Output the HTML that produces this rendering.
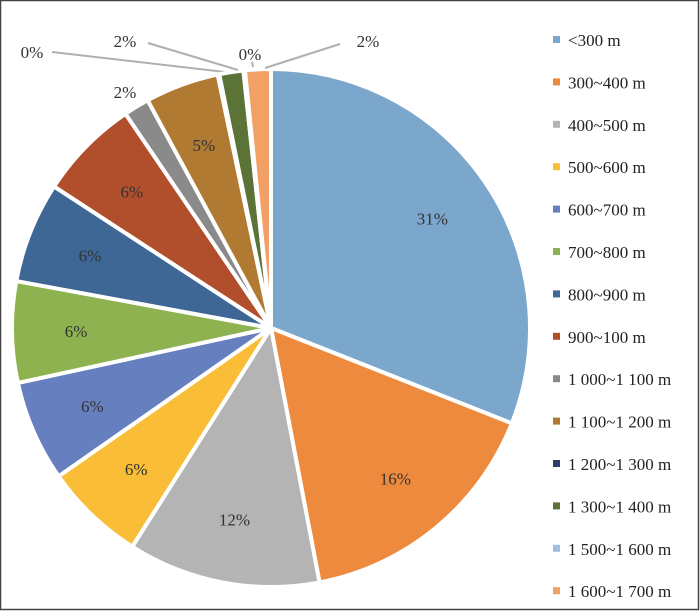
<!DOCTYPE html>
<html><head><meta charset="utf-8"><style>
body{margin:0;background:#fff}
svg{display:block;font-family:"Liberation Serif",serif}
</style></head><body>
<svg width="700" height="611">
<rect x="0.5" y="0.5" width="698" height="609" fill="#fff" stroke="#444" stroke-width="1.5"/>
<g id="pie"></g>
<g id="legend"></g>
</svg>
<script>
const categories=["<300 m","300~400 m","400~500 m","500~600 m","600~700 m","700~800 m","800~900 m","900~100 m","1 000~1 100 m","1 100~1 200 m","1 200~1 300 m","1 300~1 400 m","1 500~1 600 m","1 600~1 700 m"];
const values=[31,16,12,6.3,6.3,6.3,6.3,6.3,1.6,4.6,0.1,1.5,0.1,1.6];
const valueLabels=["31%","16%","12%","6%","6%","6%","6%","6%","2%","5%","0%","2%","0%","2%"];
const colors=["#7ba7cc","#ee8a3e","#b4b4b4","#f9bd38","#6680bf","#8db24f","#3e6796","#b14f2d","#8a8a8a","#b07a32","#2b3f6b","#5b7337","#9ebfe0","#f2a066"];
// layout for small outside labels: [textX,textY,lineStartX,lineStartY,lineEndX,lineEndY] (null=no leader)
const outside={8:[125,98,null],10:[32,58,[52,52,225,72]],11:[125,47,[148,43,238,70]],12:[250,60,[252,62,253,67]],13:[368,47,[340,44,265,68]]};
const NS="http://www.w3.org/2000/svg";
const cx=271,cy=328,R=259,LR=195;
const pie=document.getElementById('pie');
const total=values.reduce((a,b)=>a+b,0);
let a0=0;
function pt(a,r){return [cx+r*Math.sin(a),cy-r*Math.cos(a)];}
values.forEach((v,i)=>{
  const a1=a0+v/total*2*Math.PI;
  const p0=pt(a0,R),p1=pt(a1,R);
  const path=document.createElementNS(NS,'path');
  path.setAttribute('d',`M${cx},${cy}L${p0[0]},${p0[1]}A${R},${R} 0 ${a1-a0>Math.PI?1:0} 1 ${p1[0]},${p1[1]}Z`);
  path.setAttribute('fill',colors[i]);path.setAttribute('stroke','#fff');path.setAttribute('stroke-width','4');
  
  
  pie.appendChild(path);
  const t=document.createElementNS(NS,'text');
  t.setAttribute('font-size','17');t.setAttribute('fill','#333');t.setAttribute('text-anchor','middle');
  let tx,ty;
  if(outside[i]){tx=outside[i][0];ty=outside[i][1];
    if(outside[i][2]){const l=outside[i][2];const ln=document.createElementNS(NS,'polyline');
      ln.setAttribute('points',`${l[0]},${l[1]} ${l[0]+ (l[2]>l[0]?0:0)},${l[1]} ${l[2]},${l[3]}`);
      ln.setAttribute('fill','none');ln.setAttribute('stroke','#b0b0b0');ln.setAttribute('stroke-width','2');
      
      
      pie.appendChild(ln);}
  } else {const m=pt((a0+a1)/2,LR);tx=m[0];ty=m[1]+6;}
  t.setAttribute('x',tx);t.setAttribute('y',ty);t.textContent=valueLabels[i];
  
  
  pie.appendChild(t);
  a0=a1;
});
const lg=document.getElementById('legend');
categories.forEach((c,i)=>{
  const y=40+i*42.4;
  const r=document.createElementNS(NS,'rect');
  r.setAttribute('x',553);r.setAttribute('y',y-4);r.setAttribute('width',7);r.setAttribute('height',7);r.setAttribute('fill',colors[i]);
  
  
  lg.appendChild(r);
  const t=document.createElementNS(NS,'text');
  t.setAttribute('x',568);t.setAttribute('y',y+6);t.setAttribute('font-size','17');t.setAttribute('fill','#222');t.textContent=c;
  
  
  lg.appendChild(t);
});
</script>
</body></html>
